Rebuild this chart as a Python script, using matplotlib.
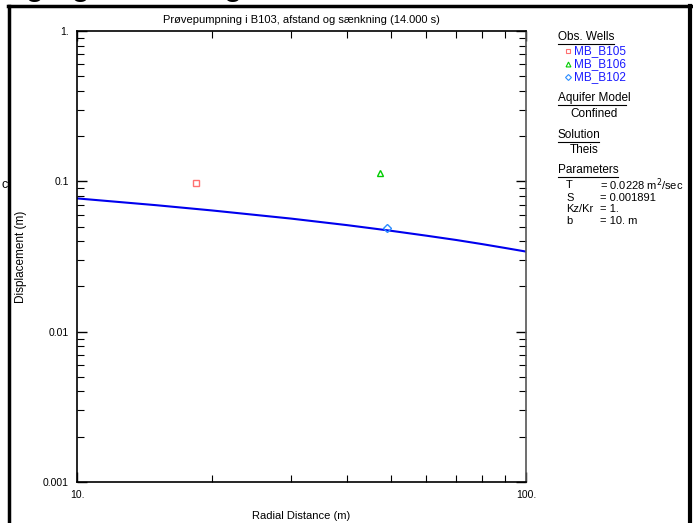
import numpy as np
import matplotlib
matplotlib.use('Agg')
import matplotlib.pyplot as plt
from matplotlib.lines import Line2D
from matplotlib.ticker import FixedLocator, LogLocator, NullFormatter

plt.rcParams['font.family'] = ['Liberation Sans', 'DejaVu Sans']

W, H = 693, 523

# observation wells (radial distance m, displacement m)
wells = ['MB_B105', 'MB_B106', 'MB_B102']
well_r = [18.4, 47.2, 49.1]
well_s = [0.098, 0.1136, 0.0491]
well_markers = ['s', '^', 'D']
well_colors = ['#ff7070', '#00cc00', '#2b8cff']

# Theis curve
curve_r = [10, 15, 20, 30, 40, 50, 60, 70, 80, 90, 100]
curve_s = [0.0770, 0.0694, 0.0640, 0.0565, 0.0511, 0.0469, 0.0435,
           0.0407, 0.0382, 0.0360, 0.0341]

yticks = [0.001, 0.01, 0.1, 1.0]
ylabels = ['0.001', '0.01', '0.1', '1.']
xticks = [10, 100]
xlabels = ['10.', '100.']

params = [('T', '= 0.0228 m$^{2}$/sec'), ('S', '= 0.001891'),
          ('Kz/Kr', '= 1.'), ('b', '= 10. m')]


def fx(x):
    return x / W


def fy(y):
    return 1 - y / H


fig = plt.figure(figsize=(W / 100, H / 100), dpi=100)
ax = fig.add_axes([fx(77), fy(482), fx(526) - fx(77), fy(31) - fy(482)])

ax.plot(curve_r, curve_s, color='#0000ee', lw=1.5)
for r, s, m, c in zip(well_r, well_s, well_markers, well_colors):
    ms = 4 if m == 'D' else 5
    ax.plot(r, s, m, mfc='none', mec=c, ms=ms, mew=1)

ax.set_xscale('log')
ax.set_yscale('log')
ax.set_xlim(10, 100)
ax.set_ylim(0.001, 1.0)
ax.yaxis.set_major_locator(FixedLocator(yticks))
ax.set_yticklabels(ylabels)
ax.xaxis.set_major_locator(FixedLocator(xticks))
ax.set_xticklabels(xlabels)
ax.xaxis.set_minor_locator(LogLocator(base=10, subs=np.arange(2, 10)))
ax.yaxis.set_minor_locator(LogLocator(base=10, subs=np.arange(2, 10)))
ax.xaxis.set_minor_formatter(NullFormatter())
ax.yaxis.set_minor_formatter(NullFormatter())
ax.tick_params(which='both', direction='in', top=True, right=True,
               labelsize=7.5, colors='black')
ax.tick_params(which='major', length=7, width=1)
ax.tick_params(which='minor', length=5, width=0.8)
ax.tick_params(axis='x', pad=6)
ax.tick_params(axis='y', pad=6)
for sp in ax.spines.values():
    sp.set_linewidth(1.2)
ax.spines['right'].set_color('#555555')

ax.set_xlabel('Radial Distance (m)', fontsize=8, labelpad=8)
ax.set_ylabel('Displacement (m)', fontsize=8.5, labelpad=11)
ax.set_title('Prøvepumpning i B103, afstand og sænkning (14.000 s)',
             fontsize=8, pad=6)

# frame around the panel
fig.add_artist(Line2D([fx(8.5), fx(8.5)], [0, fy(5.5)], color='black', lw=2.5))
fig.add_artist(Line2D([fx(690), fx(690)], [0, fy(5.5)], color='black', lw=3))
fig.add_artist(Line2D([fx(7.5), fx(693)], [fy(5.5), fy(5.5)], color='black', lw=2.5))

# clipped heading above the frame
fig.text(fx(-20), fy(-5), 'ning og sænkning', fontsize=22, fontweight='bold',
         va='baseline', ha='left')
fig.text(fx(2), fy(185), 'c', fontsize=9, va='center')

# side panel
def header(x, y, txt, width):
    fig.text(fx(x), fy(y), txt, fontsize=8.5, va='center')
    fig.add_artist(Line2D([fx(x), fx(x + width)], [fy(y + 7), fy(y + 7)],
                          color='black', lw=0.8))


header(558, 37, 'Obs. Wells', 56)
for i, (name, m, c) in enumerate(zip(wells, well_markers, well_colors)):
    yy = 51 + i * 13
    fig.add_artist(Line2D([fx(568)], [fy(yy)], marker=m, mfc='none', mec=c,
                          ms=3.5 if m != 'D' else 3, mew=0.8))
    fig.text(fx(574), fy(yy), name, fontsize=8.5, color='#1a1aff', va='center')

header(558, 98, 'Aquifer Model', 68)
fig.text(fx(570), fy(114), 'Confined', fontsize=8.5, va='center')
header(558, 135, 'Solution', 41)
fig.text(fx(570), fy(150), 'Theis', fontsize=8.5, va='center')
header(558, 170, 'Parameters', 60)
for i, (k, v) in enumerate(params):
    yy = 185 + i * 11.7 + (1 if i > 0 else 0)
    fig.text(fx(566), fy(yy), k, fontsize=8, va='center')
    fig.text(fx(600), fy(yy), v, fontsize=8, va='center')

fig.savefig('out.png', dpi=100)
